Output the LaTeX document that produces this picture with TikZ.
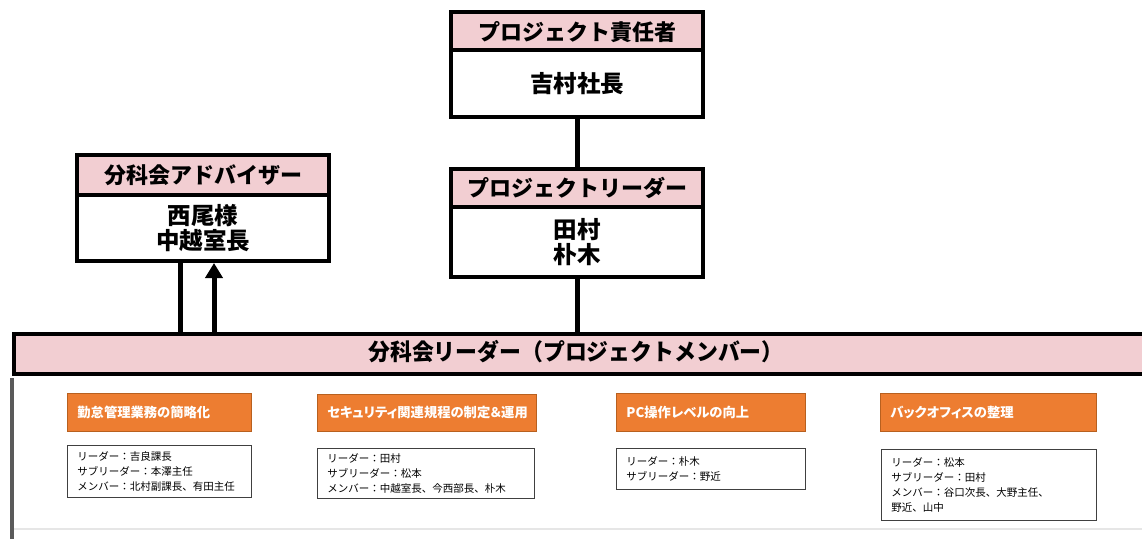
\documentclass[tikz,border=0pt]{standalone}
\usepackage{fontspec}
\setmainfont{Noto Sans CJK JP}
\newfontfamily\jpp{Noto Sans CJK JP}[RawFeature=+palt]
\usetikzlibrary{arrows.meta}
\definecolor{hdrpink}{HTML}{F2CED2}
\definecolor{taskor}{HTML}{ED7D31}
\definecolor{taskbd}{HTML}{B8601F}
\definecolor{leftgray}{HTML}{5A5A5A}
\definecolor{faint}{HTML}{E6E6E6}
\begin{document}
\begin{tikzpicture}[x=1pt,y=-1pt,
  hdr/.style={draw, line width=4pt, fill=hdrpink, inner sep=0pt, anchor=north west,
    font=\fontsize{22}{24}\selectfont\bfseries},
  bodybox/.style={draw, line width=4pt, fill=white, inner sep=0pt, anchor=north west, align=center,
    font=\fontsize{23.5}{25}\selectfont\bfseries},
  conn/.style={line width=5pt},
  taskbox/.style={draw=taskbd, line width=0.8pt, fill=taskor, anchor=north west, text=white,
    inner xsep=10pt, inner ysep=0pt, align=left, font=\jpp\fontsize{13.3}{15}\selectfont\bfseries},
  membox/.style={draw=black!75, line width=0.9pt, fill=white, anchor=north west,
    inner xsep=10pt, inner ysep=0pt, align=left, font=\fontsize{10.5}{15}\selectfont}
]
\useasboundingbox (0,0) rectangle (1142,539);
% faint bottom line
\coordinate (fl) at (14,529);
\coordinate (fr) at (1142,529);
\draw[faint, line width=1.5pt] (fl) -- (fr);

% top: project owner
\node[hdr, minimum width=252pt, minimum height=40pt] (owner-h) at (449,10) {プロジェクト責任者};
\node[bodybox, minimum width=252pt, minimum height=67pt] (owner-b) at (449,48) {吉村社長};

% project leader
\node[hdr, minimum width=252pt, minimum height=38pt] (lead-h) at (449,167) {プロジェクトリーダー};
\node[bodybox, minimum width=252pt, minimum height=70pt] (lead-b) at (449,205) {田村\\朴木};

% advisor
\node[hdr, minimum width=252pt, minimum height=40pt] (adv-h) at (75,153) {分科会アドバイザー};
\node[bodybox, minimum width=252pt, minimum height=66pt] (adv-b) at (75,193) {西尾様\\中越室長};

% leaders bar
\node[draw, line width=4pt, fill=hdrpink, anchor=north west, inner sep=0pt,
  minimum width=1160pt, minimum height=40pt] (bar) at (12,332) {};
\node[font=\fontsize{23}{26}\selectfont\bfseries, inner sep=0pt] (barlabel) at (576,352)
  {\scalebox{0.95}[1]{分科会リーダー（プロジェクトメンバー）}};

\coordinate (bl) at (12,539);
\draw[leftgray, line width=4pt] ([yshift=-2pt]bar.south west) -- (bl);

% connectors
\draw[conn] (owner-b.south) -- (lead-h.north);
\draw[conn] (lead-b.south) -- (lead-b.south |- bar.north);
\draw[conn] ([xshift=-23pt]adv-b.south) -- ([xshift=-23pt]adv-b.south |- bar.north);
\draw[conn, -{Triangle[length=15pt,width=17pt]}] ([xshift=11pt]adv-b.south |- bar.north) -- ([xshift=11pt]adv-b.south);

% task groups
\node[taskbox, text width=164pt, minimum height=38pt] (t1) at (67,393) {勤怠管理業務の簡略化};
\node[membox, text width=164pt, minimum height=52pt] (m1) at (67,445)
  {リーダー：吉良課長\\サブリーダー：本澤主任\\メンバー：北村副課長、有田主任};

\node[taskbox, text width=199pt, minimum height=37pt] (t2) at (317,394) {セキュリティ関連規程の制定＆運用};
\node[membox, text width=197pt, minimum height=50pt] (m2) at (317,448)
  {リーダー：田村\\サブリーダー：松本\\メンバー：中越室長、今西部長、朴木};

\node[taskbox, text width=169pt, minimum height=38pt] (t3) at (616,393) {PC操作レベルの向上};
\node[membox, text width=169pt, minimum height=41pt] (m3) at (616,448)
  {リーダー：朴木\\サブリーダー：野近};

\node[taskbox, text width=196pt, minimum height=38pt] (t4) at (880,393) {バックオフィスの整理};
\node[membox, text width=195pt, minimum height=71pt] (m4) at (881,449)
  {リーダー：松本\\サブリーダー：田村\\メンバー：谷口次長、大野主任、\\野近、山中};
\end{tikzpicture}
\end{document}
